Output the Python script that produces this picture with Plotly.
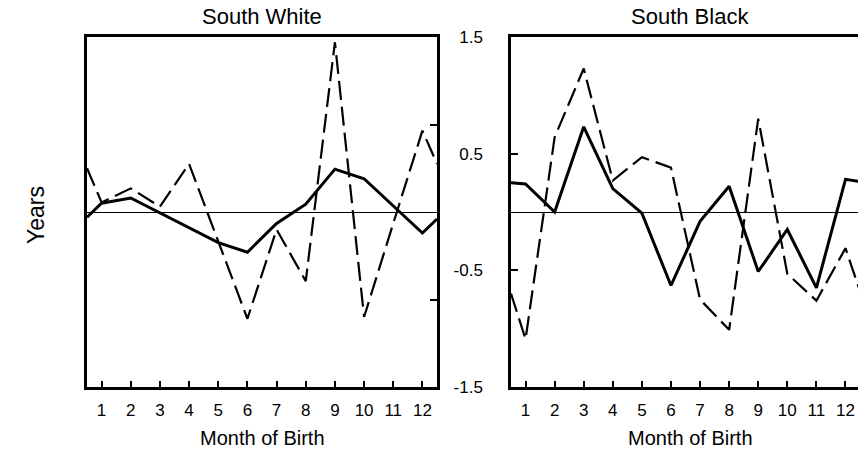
import plotly.graph_objects as go

# Month positions (0.5 and 12.5 are the panel edges, where the lines run out)
months = [0.5, 1, 2, 3, 4, 5, 6, 7, 8, 9, 10, 11, 12, 12.5]
month_ticks = list(range(1, 13))
month_labels = [str(m) for m in month_ticks]

# South White
white_solid = [-0.06, 0.10, 0.16, -0.01, -0.18, -0.35, -0.46, -0.13, 0.09, 0.49, 0.38, 0.07, -0.24, -0.08]
white_dashed = [0.50, 0.11, 0.27, 0.06, 0.55, -0.33, -1.22, -0.20, -0.79, 1.94, -1.20, -0.13, 0.93, 0.55]

# South Black
black_solid = [0.25, 0.24, 0.00, 0.73, 0.20, -0.01, -0.63, -0.08, 0.22, -0.51, -0.15, -0.65, 0.28, 0.26]
black_dashed = [-0.70, -1.09, 0.64, 1.23, 0.27, 0.47, 0.38, -0.75, -1.01, 0.80, -0.53, -0.76, -0.31, -0.68]

left_yticks = [-1, 1]
right_yticks = [-1.5, -0.5, 0.5, 1.5]
right_ylabels = ["-1.5", "-0.5", "0.5", "1.5"]

W, H = 858, 450
FONT = "Liberation Sans, Arial, sans-serif"
DASH = dict(color="black", width=2.2, dash="19px,7px")
SOLID = dict(color="black", width=3)

fig = go.Figure()
fig.add_trace(go.Scatter(x=months, y=white_dashed, mode="lines", line=DASH,
                         xaxis="x", yaxis="y", showlegend=False))
fig.add_trace(go.Scatter(x=months, y=white_solid, mode="lines", line=SOLID,
                         xaxis="x", yaxis="y", showlegend=False))
fig.add_trace(go.Scatter(x=months, y=black_dashed, mode="lines", line=DASH,
                         xaxis="x2", yaxis="y2", showlegend=False))
fig.add_trace(go.Scatter(x=months, y=black_solid, mode="lines", line=SOLID,
                         xaxis="x2", yaxis="y2", showlegend=False))

ydom = [1 - 387 / H, 1 - 37 / H]
xcommon = dict(tickvals=month_ticks, ticktext=month_labels, ticks="inside",
               ticklen=6, tickwidth=1.5, tickcolor="black",
               showline=True, linecolor="black", linewidth=2.5, mirror=True,
               showgrid=False, zeroline=False, automargin=False,
               tickfont=dict(family=FONT, size=17, color="black"),
               ticklabelstandoff=6)

fig.update_layout(
    width=W, height=H,
    margin=dict(l=0, r=0, t=0, b=0, autoexpand=False),
    paper_bgcolor="white", plot_bgcolor="white",
    xaxis=dict(domain=[87 / W, 437 / W], range=[0.5, 12.5], anchor="y", **xcommon),
    xaxis2=dict(domain=[511 / W, 1.0], range=[0.5, 12.43], anchor="y2", **xcommon),
    yaxis=dict(domain=ydom, range=[-2, 2], anchor="x", side="right", automargin=False,
               tickvals=left_yticks, ticks="inside", ticklen=7, tickwidth=1.5, tickcolor="black",
               showticklabels=False, showline=True, linecolor="black", linewidth=2.5, mirror=True,
               showgrid=False, zeroline=True, zerolinecolor="black", zerolinewidth=1.2),
    yaxis2=dict(domain=ydom, range=[-1.5, 1.5], anchor="x2", side="left", automargin=False,
                tickvals=right_yticks, ticktext=right_ylabels, ticks="inside", ticklen=7,
                tickwidth=1.5, tickcolor="black",
                tickfont=dict(family=FONT, size=17, color="black"), ticklabelstandoff=22,
                showline=True, linecolor="black", linewidth=2.5, mirror=False,
                showgrid=False, zeroline=True, zerolinecolor="black", zerolinewidth=1.2),
    annotations=[
        dict(text="South White", x=262 / W, y=1 - 16 / H, xref="paper", yref="paper",
             xanchor="center", yanchor="middle",
             showarrow=False, font=dict(family=FONT, size=22, color="black")),
        dict(text="South Black", x=690 / W, y=1 - 16 / H, xref="paper", yref="paper",
             xanchor="center", yanchor="middle",
             showarrow=False, font=dict(family=FONT, size=22, color="black")),
        dict(text="Month of Birth", x=262 / W, y=1 - 438 / H, xref="paper", yref="paper",
             xanchor="center", yanchor="middle",
             showarrow=False, font=dict(family=FONT, size=20, color="black")),
        dict(text="Month of Birth", x=690 / W, y=1 - 438 / H, xref="paper", yref="paper",
             xanchor="center", yanchor="middle",
             showarrow=False, font=dict(family=FONT, size=20, color="black")),
        dict(text="Years", x=36 / W, y=1 - 215 / H, xref="paper", yref="paper",
             xanchor="center", yanchor="middle",
             showarrow=False, textangle=-90, font=dict(family=FONT, size=23, color="black")),
    ],
)

fig.write_html("out.html")
